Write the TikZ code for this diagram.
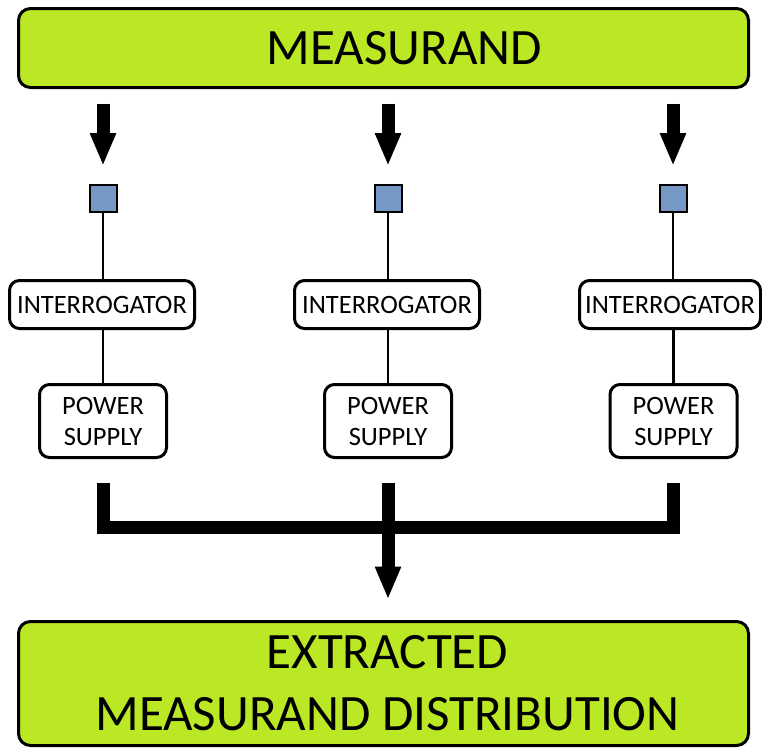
\documentclass[tikz,border=0pt]{standalone}
\usepackage{fontspec}
\setmainfont{Carlito}
\usetikzlibrary{arrows.meta}
\definecolor{lime}{RGB}{187,232,36}
\definecolor{sqblue}{RGB}{117,152,196}
\tikzset{
  bigbox/.style={draw=black, line width=3pt, fill=lime, rounded corners=12pt, minimum width=730pt, inner sep=0pt, align=center},
  smallbox/.style={draw=black, line width=3pt, fill=white, rounded corners=10pt, inner sep=0pt, align=center, font=\fontsize{26.5}{31}\selectfont},
  sq/.style={draw=black, line width=2pt, fill=sqblue, minimum size=27pt, inner sep=0pt},
  thin/.style={draw=black, line width=2.2pt},
  bigarrow/.style={draw=black, line width=13pt, line cap=butt, -{Triangle[width=24pt,length=33pt]}},
  thickbar/.style={draw=black, line width=13pt, line cap=butt, line join=miter}
}
\begin{document}
\begin{tikzpicture}[x=1pt,y=-1pt]
\useasboundingbox (0,0) rectangle (762,747);
% top and bottom boxes
\node[bigbox, minimum height=79pt, font=\fontsize{51}{62}\selectfont] (top) at (383.5,48) {\hspace*{42pt}MEASURAND};
\node[bigbox, minimum height=124pt, font=\fontsize{51}{62}\selectfont] (bot) at (383.5,683.5) {\hspace*{8pt}EXTRACTED\\\hspace*{8pt}MEASURAND DISTRIBUTION};
% sensors
\node[sq] (s1) at (103,198.5) {};
\node[sq] (s2) at (388,198.5) {};
\node[sq] (s3) at (673,198.5) {};
% interrogators
\node[smallbox, minimum width=185pt, minimum height=48pt] (i1) at (102,304.5) {INTERROGATOR};
\node[smallbox, minimum width=185pt, minimum height=48pt] (i2) at (387,304.5) {INTERROGATOR};
\node[smallbox, minimum width=181pt, minimum height=48pt] (i3) at (670,304.5) {INTERROGATOR};
% power supplies
\node[smallbox, minimum width=127pt, minimum height=73pt] (p1) at (103,421) {POWER\\SUPPLY};
\node[smallbox, minimum width=127pt, minimum height=73pt] (p2) at (388,421) {POWER\\SUPPLY};
\node[smallbox, minimum width=127pt, minimum height=73pt] (p3) at (673.5,421) {POWER\\SUPPLY};
% top arrows
\foreach \k in {1,2,3}{
  \draw[bigarrow, shorten <=14.5pt, shorten >=18pt] (top.south -| s\k.south) -- (s\k.north);
  \draw[thin] (s\k.south) -- (s\k.south |- i\k.north);
  \draw[thin] (p\k.north |- i\k.south) -- (p\k.north);
}
% collecting bar
\coordinate (a1) at ([yshift=-23.5pt]p1.south);
\coordinate (a2) at ([yshift=-23.5pt]p2.south);
\coordinate (a3) at ([yshift=-23.5pt]p3.south);
\coordinate (j) at (388,527.5);
\draw[thickbar] (a1) |- (j) -| (a3);
\draw[bigarrow, shorten >=20.5pt] (a2) -- (a2 |- bot.north);
\end{tikzpicture}
\end{document}
